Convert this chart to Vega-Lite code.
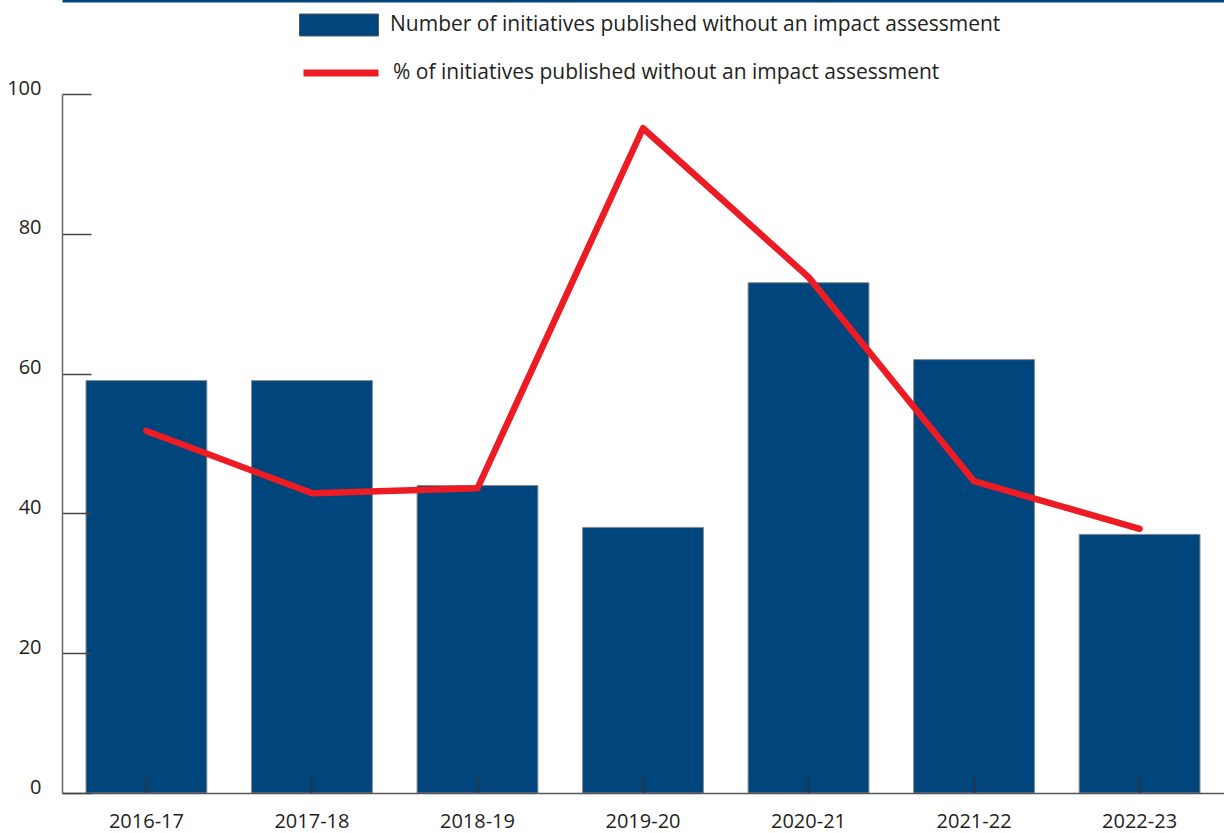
{
  "$schema": "https://vega.github.io/schema/vega-lite/v6.json",
  "width": 1162,
  "height": 699,
  "autosize": {"type": "none"},
  "padding": {"left": 62, "top": 94, "right": 0, "bottom": 40},
  "background": "white",
  "config": {
    "view": {"stroke": null},
    "font": "Open Sans",
    "axis": {"grid": false, "title": null}
  },
  "data": {
    "values": [
      {"year": "2016-17", "count": 59, "pct": 51.8},
      {"year": "2017-18", "count": 59, "pct": 42.9},
      {"year": "2018-19", "count": 44, "pct": 43.6},
      {"year": "2019-20", "count": 38, "pct": 95.1},
      {"year": "2020-21", "count": 73, "pct": 73.8},
      {"year": "2021-22", "count": 62, "pct": 44.6},
      {"year": "2022-23", "count": 37, "pct": 37.8}
    ]
  },
  "layer": [
    {
      "mark": {"type": "bar", "stroke": "#8a8a8a", "strokeWidth": 1},
      "encoding": {
        "x": {
          "field": "year",
          "type": "nominal",
          "sort": null,
          "scale": {"paddingInner": 0.27, "paddingOuter": 0.145},
          "axis": {
            "orient": "bottom",
            "zindex": 1,
            "labelAngle": 0,
            "labelFontSize": 20,
            "labelColor": "#231F20",
            "labelPadding": 35,
            "domainColor": "#555555",
            "domainWidth": 1.5,
            "tickColor": "#333333",
            "tickWidth": 1.5,
            "tickSize": -17
          }
        },
        "y": {
          "field": "count",
          "type": "quantitative",
          "scale": {"domain": [0, 100], "nice": false},
          "axis": {
            "values": [0, 20, 40, 60, 80, 100],
            "zindex": 1,
            "labelFontSize": 20,
            "labelColor": "#231F20",
            "labelPadding": 50,
            "labelOffset": -6,
            "labelFlush": false,
            "labelOverlap": false,
            "domainColor": "#666666",
            "domainWidth": 1.5,
            "tickColor": "#444444",
            "tickWidth": 1.5,
            "tickSize": -29
          }
        },
        "fill": {
          "datum": "Number of initiatives published without an impact assessment",
          "type": "nominal",
          "scale": {"range": ["#00457C"]},
          "legend": {
            "title": null,
            "orient": "none",
            "legendX": 237,
            "legendY": -109,
            "symbolType": "M-1,-0.278H1V0.278H-1Z",
            "symbolSize": 6241,
            "symbolStrokeColor": "#555555",
            "symbolStrokeWidth": 1,
            "labelFontSize": 21,
            "labelColor": "#231F20",
            "labelOffset": 11,
            "labelLimit": 900
          }
        }
      }
    },
    {
      "mark": {"type": "line", "strokeWidth": 6.5, "strokeCap": "round", "strokeJoin": "round"},
      "encoding": {
        "x": {
          "field": "year",
          "type": "nominal",
          "sort": null,
          "axis": {
            "orient": "top",
            "offset": 94,
            "labels": false,
            "ticks": false,
            "domainColor": "#00457C",
            "domainWidth": 4
          }
        },
        "y": {
          "field": "pct",
          "type": "quantitative",
          "axis": {
            "values": [0, 20, 40, 60, 80, 100],
            "zindex": 1,
            "labelFontSize": 20,
            "labelColor": "#231F20",
            "labelPadding": 50,
            "labelOffset": -6,
            "labelFlush": false,
            "labelOverlap": false,
            "domainColor": "#666666",
            "domainWidth": 1.5,
            "tickColor": "#444444",
            "tickWidth": 1.5,
            "tickSize": -29
          }
        },
        "stroke": {
          "datum": "% of initiatives published without an impact assessment",
          "type": "nominal",
          "scale": {"range": ["#ED1C24"]},
          "legend": {
            "title": null,
            "orient": "none",
            "legendX": 238,
            "legendY": -62,
            "symbolType": "stroke",
            "symbolSize": 5625,
            "symbolStrokeWidth": 7,
            "labelFontSize": 21,
            "labelColor": "#231F20",
            "labelOffset": 11,
            "labelLimit": 900
          }
        }
      }
    }
  ],
  "resolve": {"axis": {"x": "independent"}, "scale": {"fill": "independent", "stroke": "independent"}}
}
